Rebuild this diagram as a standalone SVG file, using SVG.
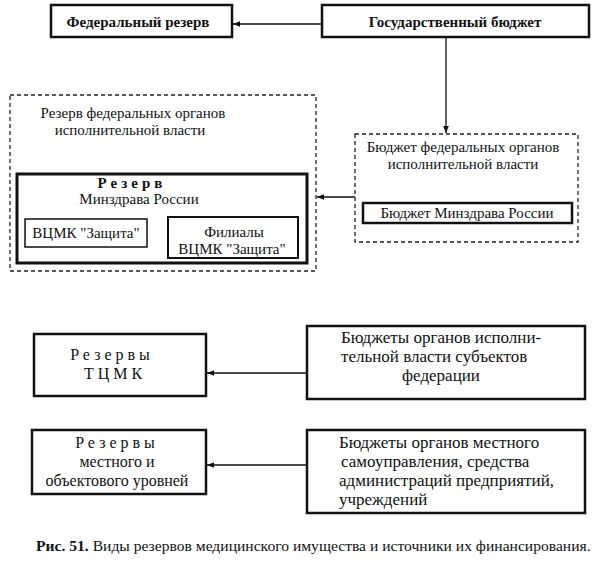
<svg xmlns="http://www.w3.org/2000/svg" width="596" height="567" viewBox="0 0 596 567">
<style>
text{font-family:"Liberation Serif","Times New Roman",serif;font-size:15px;fill:#111}
.b{font-weight:bold}
.m{font-size:17px}
.s{font-size:16px}
.sp{letter-spacing:4px}
.box{fill:none;stroke:#111;stroke-width:2.5}
.thin{fill:none;stroke:#111;stroke-width:1.5}
.dash{fill:none;stroke:#222;stroke-width:1.3;stroke-dasharray:4 3}
.con{fill:none;stroke:#111;stroke-width:1.3}
.cap{font-size:15.6px}
</style>
<defs>
<marker id="ah" viewBox="0 0 10 10" refX="10" refY="5" markerWidth="7" markerHeight="7" markerUnits="userSpaceOnUse" orient="auto">
<path d="M0,1 L10,5 L0,9 z" fill="#111"/>
</marker>
</defs>
<rect width="596" height="567" fill="#fff"/>
<g id="connectors">
<line class="con" x1="322" y1="24" x2="233" y2="24" marker-end="url(#ah)"/>
<line class="con" x1="446" y1="37" x2="446" y2="133" marker-end="url(#ah)"/>
<line class="con" x1="355" y1="197" x2="317" y2="197" marker-end="url(#ah)"/>
<line class="con" x1="307" y1="373" x2="207" y2="373" marker-end="url(#ah)"/>
<line class="con" x1="307" y1="465" x2="207" y2="465" marker-end="url(#ah)"/>
</g>
<g id="fed-reserve">
<rect class="box" x="51" y="5" width="181" height="32"/>
<text class="b" x="138" y="27" text-anchor="middle" font-size="16">Федеральный резерв</text>
</g>
<g id="gos-budget">
<rect class="box" x="322" y="5" width="267" height="32"/>
<text class="b" x="455" y="27" text-anchor="middle" font-size="17">Государственный бюджет</text>
</g>
<g id="reserve-fed-organs">
<rect class="dash" x="10" y="95" width="306" height="176"/>
<text x="133" y="118" text-anchor="middle">Резерв федеральных органов</text>
<text x="130" y="135" text-anchor="middle">исполнительной власти</text>
</g>
<g id="reserve-minzdrav">
<rect fill="none" stroke="#111" stroke-width="3" x="17" y="174" width="290" height="89"/>
<text class="b sp" x="132" y="188" text-anchor="middle">Резерв</text>
<text x="139" y="204" text-anchor="middle">Минздрава России</text>
</g>
<g id="vcmk">
<rect class="thin" x="25" y="219" width="122" height="28"/>
<text x="86" y="238" text-anchor="middle">ВЦМК "Защита"</text>
</g>
<g id="filialy">
<rect fill="none" stroke="#111" stroke-width="2" x="168" y="217" width="130" height="41"/>
<text x="234" y="237" text-anchor="middle">Филиалы</text>
<text x="232" y="254" text-anchor="middle">ВЦМК "Защита"</text>
</g>
<g id="budget-fed-organs">
<rect class="dash" x="355" y="134" width="223" height="108"/>
<text x="463" y="152" text-anchor="middle">Бюджет федеральных органов</text>
<text x="463" y="169" text-anchor="middle">исполнительной власти</text>
</g>
<g id="budget-minzdrav">
<rect class="box" x="363" y="203" width="209" height="20"/>
<text x="467" y="218" text-anchor="middle">Бюджет Минздрава России</text>
</g>
<g id="reserves-tcmk">
<rect class="box" x="34" y="334" width="172" height="62"/>
<text class="s sp" x="112" y="360" text-anchor="middle">Резервы</text>
<text class="s sp" x="115" y="379" text-anchor="middle">ТЦМК</text>
</g>
<g id="budgets-subjects">
<rect class="box" x="307" y="326" width="278" height="73"/>
<text class="m" x="341" y="343">Бюджеты органов исполни-</text>
<text class="m" x="341" y="362">тельной власти субъектов</text>
<text class="m" x="441" y="381" text-anchor="middle">федерации</text>
</g>
<g id="reserves-local">
<rect class="box" x="32" y="430" width="174" height="64"/>
<text class="s sp" x="117" y="448" text-anchor="middle">Резервы</text>
<text class="s" x="117" y="467" text-anchor="middle">местного и</text>
<text class="s" x="117" y="486" text-anchor="middle">объектового уровней</text>
</g>
<g id="budgets-local">
<rect class="box" x="307" y="430" width="278" height="83"/>
<text class="m" x="339" y="448">Бюджеты органов местного</text>
<text class="m" x="341" y="467">самоуправления, средства</text>
<text class="m" x="339" y="486">администраций предприятий,</text>
<text class="m" x="339" y="505">учреждений</text>
</g>
<text class="cap" x="36" y="551"><tspan class="b">Рис. 51.</tspan> Виды резервов медицинского имущества и источники их финансирования.</text>
</svg>
